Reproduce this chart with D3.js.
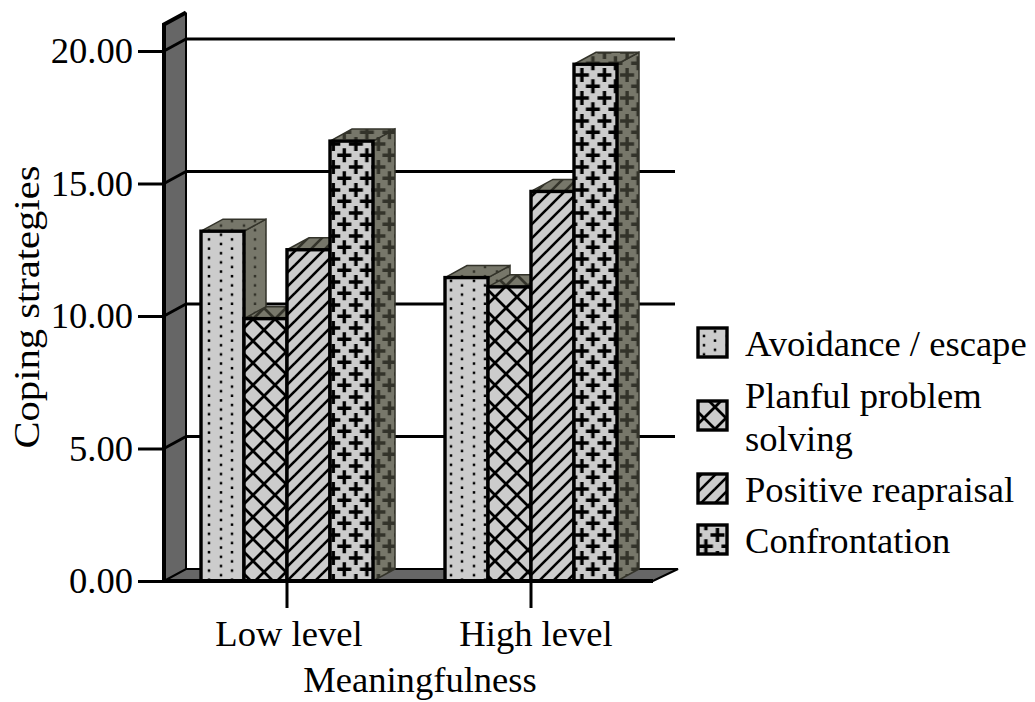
<!DOCTYPE html>
<html>
<head>
<meta charset="utf-8">
<script src="https://d3js.org/d3.v7.min.js"></script>
<style>
  html, body { margin: 0; padding: 0; background: #fff; }
  text { font-family: "Liberation Serif", serif; fill: #000; }
</style>
</head>
<body>
<div id="chart"></div>
<script>
const groups = ["Low level", "High level"];
const series = ["Avoidance / escape", "Planful problem solving", "Positive reapraisal", "Confrontation"];
const lowValues = [13.2, 9.9, 12.5, 16.6];
const highValues = [11.45, 11.1, 14.7, 19.5];
const yTicks = [0, 5, 10, 15, 20];
const yMax = 21;
const legendLines = [["Avoidance / escape"], ["Planful problem", "solving"], ["Positive reapraisal"], ["Confrontation"]];

const w = 1035, h = 702;
const fontSize = 36.6;
const depthX = 22, depthY = -12;
const frontFill = "#cccccc", sideFill = "#77776a", sideInk = "#33332a", wallFill = "#666666";

const svg = d3.select("#chart").append("svg").attr("width", w).attr("height", h).style("display", "block");

const x0 = d3.scaleBand().domain(groups).range([165, 653]);
const x1 = d3.scaleBand().domain(series).range([36, 208]);
const y = d3.scaleLinear().domain([0, yMax]).range([581, 24.5]);

// one pattern per series, a light one for fronts and a dark one for the 3d sides
const defs = svg.append("defs");
function makePattern(id, type, bg, ink) {
  let tw = 22.6, th = 23;
  if (type == "dots") { tw = 23; th = 18.4; }
  if (type == "cross") { tw = 22; th = 22; }
  if (type == "diag") { tw = 14; th = 14; }
  let p = defs.append("pattern").attr("id", id).attr("patternUnits", "userSpaceOnUse")
    .attr("width", tw).attr("height", th);
  p.append("rect").attr("width", tw).attr("height", th).attr("fill", bg);
  if (type == "dots") {
    [[2, 0.2], [2, 9.4], [14, 4.8], [14, 14]].forEach(d => {
      p.append("rect").attr("x", d[0] - 1.25).attr("y", d[1] - 1.25).attr("width", 2.5).attr("height", 2.5).attr("fill", ink);
    });
    p.append("rect").attr("x", 0.75).attr("y", th - 1.05).attr("width", 2.5).attr("height", 2.5).attr("fill", ink);
  }
  if (type == "cross") {
    p.append("path").attr("d", `M0,0L${tw},${th}M${tw},0L0,${th}`).attr("stroke", ink).attr("stroke-width", 2.8).attr("fill", "none");
    p.append("path").attr("d", `M-3,3L3,-3M${tw - 3},-3L${tw + 3},3M-3,${th - 3}L3,${th + 3}M${tw - 3},${th + 3}L${tw + 3},${th - 3}`).attr("stroke", ink).attr("stroke-width", 2.8);
  }
  if (type == "diag") {
    p.append("path").attr("d", `M-2,${th + 2}L${tw + 2},-2`).attr("stroke", ink).attr("stroke-width", 2.6).attr("fill", "none");
    p.append("path").attr("d", `M-5,5L5,-5M${tw - 5},${th + 5}L${tw + 5},${th - 5}`).attr("stroke", ink).attr("stroke-width", 2.6);
  }
  if (type == "plus") {
    let arm = 7;
    [[5.3, 17.3], [16.9, 6]].forEach(d => {
      [-1, 0, 1].forEach(ox => {
        [-1, 0, 1].forEach(oy => {
          let cx = d[0] + ox * tw, cy = d[1] + oy * th;
          p.append("path").attr("d", `M${cx - arm},${cy}h${arm * 2}M${cx},${cy - arm}v${arm * 2}`)
            .attr("stroke", ink).attr("stroke-width", 3.4).attr("fill", "none");
        });
      });
    });
  }
}
const patternTypes = ["dots", "cross", "diag", "plus"];
patternTypes.forEach((t, i) => {
  makePattern("front" + i, t, frontFill, "#000");
  makePattern("side" + i, t, sideFill, sideInk);
});

// back gridlines
const g = svg.append("g");
g.selectAll(".grid").data(yTicks.slice(1)).enter().append("line")
  .attr("x1", 165 + depthX).attr("x2", 653 + depthX)
  .attr("y1", d => y(d) + depthY).attr("y2", d => y(d) + depthY)
  .attr("stroke", "#000").attr("stroke-width", 3);

// left wall
g.append("path")
  .attr("d", `M164,${y(0)}L164,${y(yMax)}L${164 + depthX},${y(yMax) + depthY}L${164 + depthX},${y(0) + depthY}Z`)
  .attr("fill", wallFill).attr("stroke", "none");
g.append("path")
  .attr("d", `M164,${y(0)}L164,${y(yMax)}L${164 + depthX},${y(yMax) + depthY}`)
  .attr("fill", "none").attr("stroke", "#000").attr("stroke-width", 4);
g.append("line").attr("x1", 164 + depthX).attr("x2", 164 + depthX).attr("y1", y(yMax) + depthY).attr("y2", y(0) + depthY)
  .attr("stroke", "#000").attr("stroke-width", 2);

// floor
g.append("path")
  .attr("d", `M164,${y(0)}L653,${y(0)}L${653 + depthX + 3},${y(0) + depthY}L${164 + depthX},${y(0) + depthY}Z`)
  .attr("fill", wallFill).attr("stroke", "#000").attr("stroke-width", 2);

// wall lines at each tick
g.selectAll(".wallTick").data(yTicks.slice(1)).enter().append("line")
  .attr("x1", 164).attr("x2", 164 + depthX)
  .attr("y1", d => y(d)).attr("y2", d => y(d) + depthY)
  .attr("stroke", "#000").attr("stroke-width", 3);

// bars
const rows = [];
series.forEach((s, i) => {
  rows.push({ group: groups[0], s: s, i: i, v: lowValues[i] });
});
series.forEach((s, i) => {
  rows.push({ group: groups[1], s: s, i: i, v: highValues[i] });
});

const bars = g.selectAll(".bar").data(rows).enter().append("g").attr("class", "bar");
const bw = x1.bandwidth();
const left = d => x0(d.group) + x1(d.s);

bars.append("path") // side
  .attr("d", d => `M${left(d) + bw},${y(d.v)}l${depthX},${depthY}L${left(d) + bw + depthX},${y(0) + depthY}L${left(d) + bw},${y(0)}Z`)
  .attr("fill", d => `url(#side${d.i})`).attr("stroke", sideInk).attr("stroke-width", 1.5);
bars.append("path") // top
  .attr("d", d => `M${left(d)},${y(d.v)}l${depthX},${depthY}h${bw}l${-depthX},${-depthY}Z`)
  .attr("fill", d => `url(#side${d.i})`).attr("stroke", sideInk).attr("stroke-width", 1.5);
bars.append("rect") // front
  .attr("x", d => left(d)).attr("y", d => y(d.v))
  .attr("width", bw).attr("height", d => y(0) - y(d.v))
  .attr("fill", d => `url(#front${d.i})`).attr("stroke", "#000").attr("stroke-width", 3.4);

// axes
const yAxis = d3.axisLeft(y).tickValues(yTicks).tickFormat(d3.format(".2f")).tickSize(26).tickPadding(5);
const yG = svg.append("g").attr("transform", "translate(164,0)").call(yAxis);
yG.select(".domain").remove();
yG.selectAll("line").attr("stroke", "#000").attr("stroke-width", 3);
yG.selectAll("text").style("font-family", '"Liberation Serif", serif').attr("font-size", fontSize).attr("fill", "#000").attr("dy", "0.32em");

const xAxis = d3.axisBottom(x0).tickSize(27).tickPadding(6);
const xG = svg.append("g").attr("transform", `translate(0,${y(0)})`).call(xAxis);
xG.select(".domain").attr("d", "M164,0H653").attr("stroke", "#000").attr("stroke-width", 4);
xG.selectAll("line").attr("stroke", "#000").attr("stroke-width", 3);
// labels sit a little right of their ticks in the original
xG.selectAll("text").style("font-family", '"Liberation Serif", serif').attr("font-size", fontSize).attr("fill", "#000").attr("y", 39)
  .attr("x", (d, i) => i == 0 ? 2 : 5);

svg.append("text").attr("x", 420).attr("y", 692).attr("text-anchor", "middle").attr("font-size", fontSize).text("Meaningfulness");
svg.append("text").attr("transform", "translate(39,307) rotate(-90)").attr("text-anchor", "middle").attr("font-size", fontSize)
  .attr("textLength", 283).attr("lengthAdjust", "spacingAndGlyphs").text("Coping strategies");

// legend
const legendY = [327, 400, 473, 524];
const legend = svg.selectAll(".legend").data(series).enter().append("g").attr("class", "legend");
legend.append("rect").attr("x", 698).attr("y", (d, i) => legendY[i] + 1).attr("width", 29).attr("height", 29)
  .attr("fill", (d, i) => `url(#front${i})`).attr("stroke", "#000").attr("stroke-width", 3.4);
legend.each(function (d, i) {
  let lines = legendLines[i];
  let sel = d3.select(this);
  let y0 = legendY[i] + 29 - (lines.length - 1) * 21;
  lines.forEach((t, j) => {
    sel.append("text").attr("x", 745).attr("y", y0 + j * 43).attr("font-size", fontSize).text(t);
  });
});
</script>
</body>
</html>
